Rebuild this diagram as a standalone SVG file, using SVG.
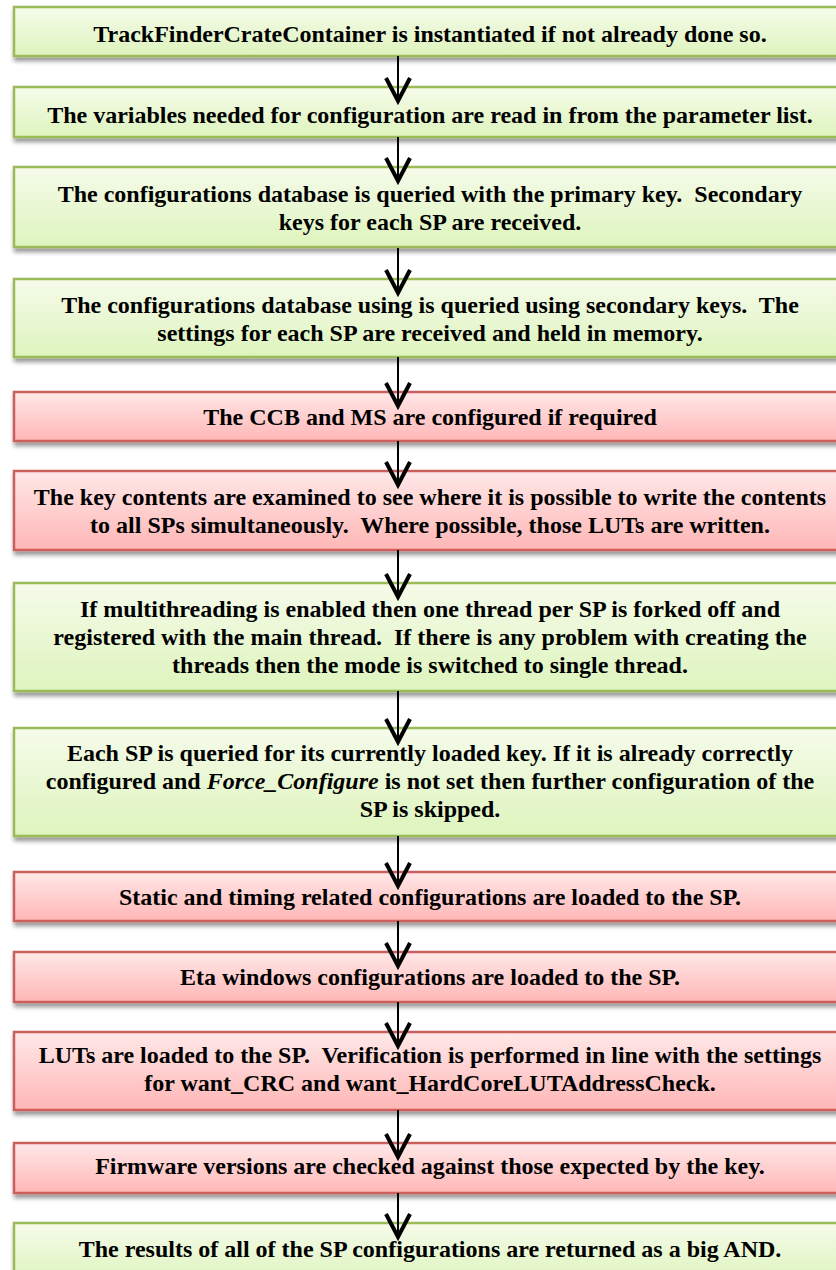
<svg xmlns="http://www.w3.org/2000/svg" width="836" height="1270" viewBox="0 0 836 1270">
<defs>
<linearGradient id="gG" x1="0" y1="0" x2="0" y2="1"><stop offset="0" stop-color="#f5fbea"/><stop offset="1" stop-color="#def4bd"/></linearGradient>
<linearGradient id="gR" x1="0" y1="0" x2="0" y2="1"><stop offset="0" stop-color="#ffe8e8"/><stop offset="1" stop-color="#ffb6b6"/></linearGradient>
<filter id="sh" x="-5%" y="-20%" width="110%" height="150%"><feDropShadow dx="1" dy="4" stdDeviation="2" flood-color="#000" flood-opacity="0.4"/></filter>
</defs>
<style>
.g{fill:url(#gG);stroke:#9bbb59;stroke-width:2.5;filter:url(#sh)}
.r{fill:url(#gR);stroke:#c9605c;stroke-width:2.5;filter:url(#sh)}
.t{font-family:'Liberation Serif','Times New Roman',serif;font-weight:bold;font-size:24px;fill:#000;text-anchor:middle;white-space:pre}
.ln{stroke:#000;stroke-width:2;fill:none}
.hd{stroke:#000;stroke-width:4;fill:none;stroke-linejoin:miter;stroke-linecap:butt}
</style>
<g id="n1"><rect class="g" x="14" y="7" width="840" height="49"/><text class="t" x="430" y="42">TrackFinderCrateContainer is instantiated if not already done so.</text></g>
<g id="n2"><rect class="g" x="14" y="87" width="840" height="50"/><text class="t" x="430" y="123">The variables needed for configuration are read in from the parameter list.</text></g>
<g id="n3"><rect class="g" x="14" y="167" width="840" height="80"/><text class="t" x="430" y="202">The configurations database is queried with the primary key.  Secondary</text><text class="t" x="430" y="230">keys for each SP are received.</text></g>
<g id="n4"><rect class="g" x="14" y="279" width="840" height="78"/><text class="t" x="430" y="313">The configurations database using is queried using secondary keys.  The</text><text class="t" x="430" y="341">settings for each SP are received and held in memory.</text></g>
<g id="n5"><rect class="r" x="14" y="392" width="840" height="49"/><text class="t" x="430" y="425">The CCB and MS are configured if required</text></g>
<g id="n6"><rect class="r" x="14" y="471" width="840" height="79"/><text class="t" x="430" y="505">The key contents are examined to see where it is possible to write the contents</text><text class="t" x="430" y="533">to all SPs simultaneously.  Where possible, those LUTs are written.</text></g>
<g id="n7"><rect class="g" x="14" y="583" width="840" height="108"/><text class="t" x="430" y="617">If multithreading is enabled then one thread per SP is forked off and</text><text class="t" x="430" y="645">registered with the main thread.  If there is any problem with creating the</text><text class="t" x="430" y="673">threads then the mode is switched to single thread.</text></g>
<g id="n8"><rect class="g" x="14" y="728" width="840" height="108"/><text class="t" x="430" y="761">Each SP is queried for its currently loaded key. If it is already correctly</text><text class="t" x="430" y="789">configured and <tspan font-style="italic">Force_Configure</tspan> is not set then further configuration of the</text><text class="t" x="430" y="817">SP is skipped.</text></g>
<g id="n9"><rect class="r" x="14" y="872" width="840" height="49"/><text class="t" x="430" y="905">Static and timing related configurations are loaded to the SP.</text></g>
<g id="n10"><rect class="r" x="14" y="952" width="840" height="50"/><text class="t" x="430" y="985">Eta windows configurations are loaded to the SP.</text></g>
<g id="n11"><rect class="r" x="14" y="1032" width="840" height="78"/><text class="t" x="430" y="1063">LUTs are loaded to the SP.  Verification is performed in line with the settings</text><text class="t" x="430" y="1091">for want_CRC and want_HardCoreLUTAddressCheck.</text></g>
<g id="n12"><rect class="r" x="14" y="1143" width="840" height="50"/><text class="t" x="430" y="1174">Firmware versions are checked against those expected by the key.</text></g>
<g id="n13"><rect class="g" x="14" y="1223" width="840" height="60"/><text class="t" x="430" y="1257">The results of all of the SP configurations are returned as a big AND.</text></g>
<g id="connectors">
<path class="ln" d="M398 56V99M398 137V179M398 248V291M398 357V404M398 441V483M398 550V595M398 691V740M398 836V884M398 921V964M398 1002V1044M398 1110V1155M398 1193V1235"/>
<path class="hd" d="M386 78L398 101L410 78M386 158L398 181L410 158M386 270L398 293L410 270M386 383L398 406L410 383M386 462L398 485L410 462M386 574L398 597L410 574M386 719L398 742L410 719M386 863L398 886L410 863M386 943L398 966L410 943M386 1023L398 1046L410 1023M386 1134L398 1157L410 1134M386 1214L398 1237L410 1214"/>
</g>
</svg>
